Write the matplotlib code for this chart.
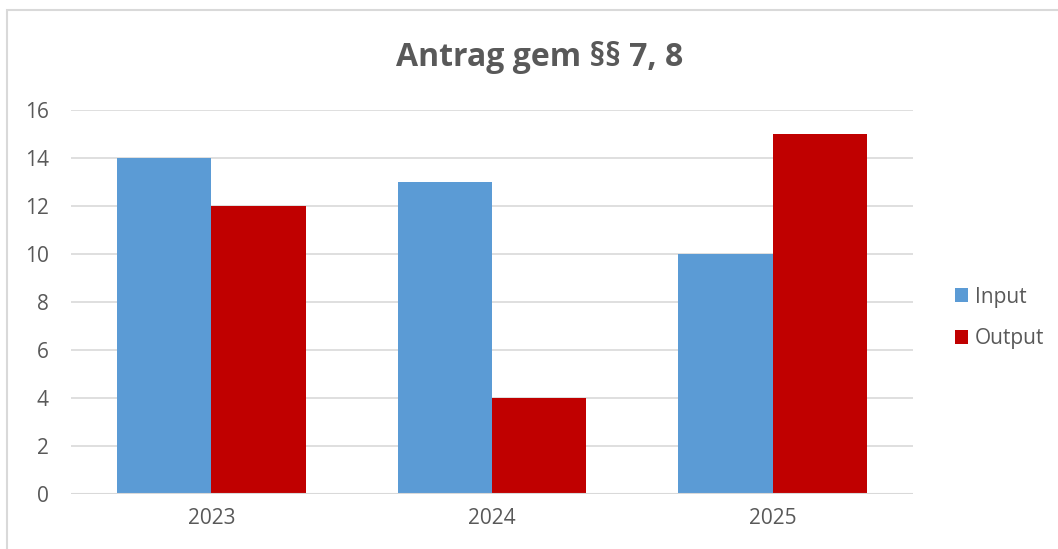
import matplotlib
matplotlib.use("Agg")
import matplotlib.pyplot as plt
import numpy as np
from matplotlib.patches import Rectangle

# ── Données ──────────────────────────────────────────────────────────────
years = ["2023", "2024", "2025"]
input_vals = [14, 13, 10]
output_vals = [12, 4, 15]
yticks = [0, 2, 4, 6, 8, 10, 12, 14, 16]

TXT = "#595959"
GRID = "#D9D9D9"
plt.rcParams["font.family"] = ["Open Sans", "DejaVu Sans"]

fig = plt.figure(figsize=(10.58, 5.49), dpi=100)
ax = fig.add_axes([71 / 1058, 55 / 549, 842 / 1058, 384 / 549])

# cadre du graphique (bords droit/bas hors image)
fig.patches.append(Rectangle((7 / 1058, -0.1), 1.2, (539 / 549) + 0.1,
                             transform=fig.transFigure, fill=False,
                             edgecolor=GRID, lw=1.5, zorder=0))

x = np.arange(len(years))
w = 0.336
ax.bar(x - w / 2, input_vals, w, color="#5B9BD5", label="Input", zorder=3)
ax.bar(x + w / 2, output_vals, w, color="#C00000", label="Output", zorder=3)

ax.set_xlim(-0.5, len(years) - 0.5)
ax.set_ylim(0, 16)
ax.set_yticks(yticks)
ax.set_xticks(x)
ax.set_xticklabels(years)
ax.yaxis.grid(True, color=GRID, lw=1.2, zorder=0)
for s in ax.spines.values():
    s.set_visible(False)
ax.axhline(0, color=GRID, lw=1.5, zorder=4)
ax.tick_params(length=0, labelsize=15, colors=TXT)
ax.tick_params(axis="y", pad=16)
ax.tick_params(axis="x", pad=10)

fig.text(540 / 1058, 1 - 57 / 549, "Antrag gem §§ 7, 8", ha="center", va="center",
         fontsize=23, fontweight="bold", color=TXT)

fig.legend(loc="center left", bbox_to_anchor=(936 / 1058, 1 - 318 / 549),
           frameon=False, fontsize=15, labelcolor=TXT,
           handlelength=0.65, handleheight=0.65, handletextpad=0.3,
           labelspacing=1.0)

fig.savefig("out.png", dpi=100)
